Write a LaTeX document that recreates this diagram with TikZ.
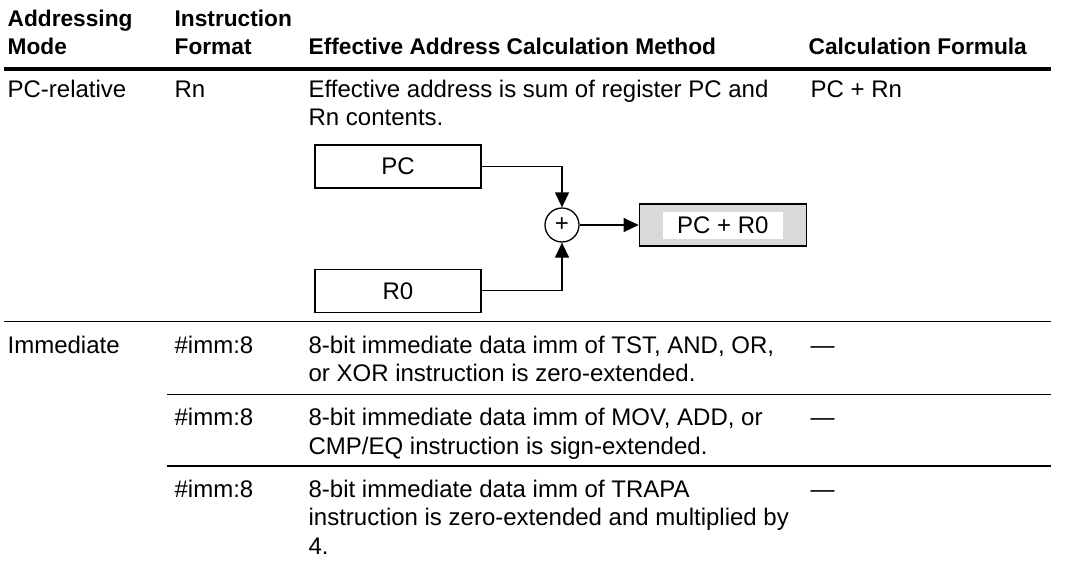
\documentclass[tikz,border=0pt]{standalone}
\usepackage{fontspec}
\setmainfont{Liberation Sans}
\usetikzlibrary{arrows.meta,positioning}

\begin{document}
\begin{tikzpicture}[x=1pt,y=-1pt,>={Triangle[length=15pt,width=14pt]},line width=1.3pt,
  txt/.style={anchor=base west,inner sep=0pt,align=left,font=\fontsize{24}{28.5}\selectfont},
  head/.style={txt,font=\fontsize{22.7}{28}\selectfont\bfseries},
  reg/.style={draw,minimum width=166pt,minimum height=43pt,inner sep=0pt,font=\fontsize{24}{28}\selectfont},
  rule/.style={line width=1.5pt}]

\useasboundingbox (0,0) rectangle (1071,565);

% header (multi-line nodes sit on their last baseline)
\node[head] (hmode) at (7,54)   {Addressing\\Mode};
\node[head] (hfmt)  at (174,54) {Instruction\\Format};
\node[head] (hcalc) at (308,54) {Effective Address Calculation Method};
\node[head] (hform) at (808,54) {Calculation Formula};
\draw[line width=4pt] (4,69.3) -- (1051,69.3);

% PC-relative
\node[txt] (mode1) at (7,97.3)    {PC-relative};
\node[txt] (fmt1)  at (174,97.3)  {Rn};
\node[txt] (calc1) at (308,125.8) {Effective address is sum of register PC and\\Rn contents.};
\node[txt] (form1) at (810,97.3)  {PC + Rn};

\node[reg] (PC) at (398,166.5) {PC};
\node[reg] (R0) [below=80pt of PC] {R0};
\node[draw,circle,minimum size=34pt,inner sep=0pt,font=\fontsize{24}{28}\selectfont] (sum) at (562,225) {+};
\node[reg,fill=gray!30,minimum width=167pt,minimum height=42pt] (res) [right=59pt of sum] {};
\node[fill=white,minimum width=120pt,minimum height=27pt,inner sep=0pt,font=\fontsize{24}{28}\selectfont] (resval) at (res.center) {PC + R0};

\draw[->] (PC.east) -| (sum.north);
\draw[->] (R0.east) -| (sum.south);
\draw[->] (sum) -- (res);

\draw[rule] (4,321.7) -- (1051,321.7);

% Immediate
\node[txt] (mode2) at (7,353)     {Immediate};
\node[txt] (fmt2)  at (174,353)   {\#imm:8};
\node[txt] (calc2) at (308,381.5) {8-bit immediate data imm of TST, AND, OR,\\or XOR instruction is zero-extended.};
\node[txt] (form2) at (810,353)   {---};

\draw[rule] (167,394.3) -- (1051,394.3);

\node[txt] (fmt3)  at (174,425.6) {\#imm:8};
\node[txt] (calc3) at (308,454.1) {8-bit immediate data imm of MOV, ADD, or\\CMP/EQ instruction is sign-extended.};
\node[txt] (form3) at (810,425.6) {---};

\draw[rule] (167,466) -- (1051,466);

\node[txt] (fmt4)  at (174,497.3) {\#imm:8};
\node[txt] (calc4) at (308,554.3) {8-bit immediate data imm of TRAPA\\instruction is zero-extended and multiplied by\\4.};
\node[txt] (form4) at (810,497.3) {---};
\end{tikzpicture}
\end{document}
